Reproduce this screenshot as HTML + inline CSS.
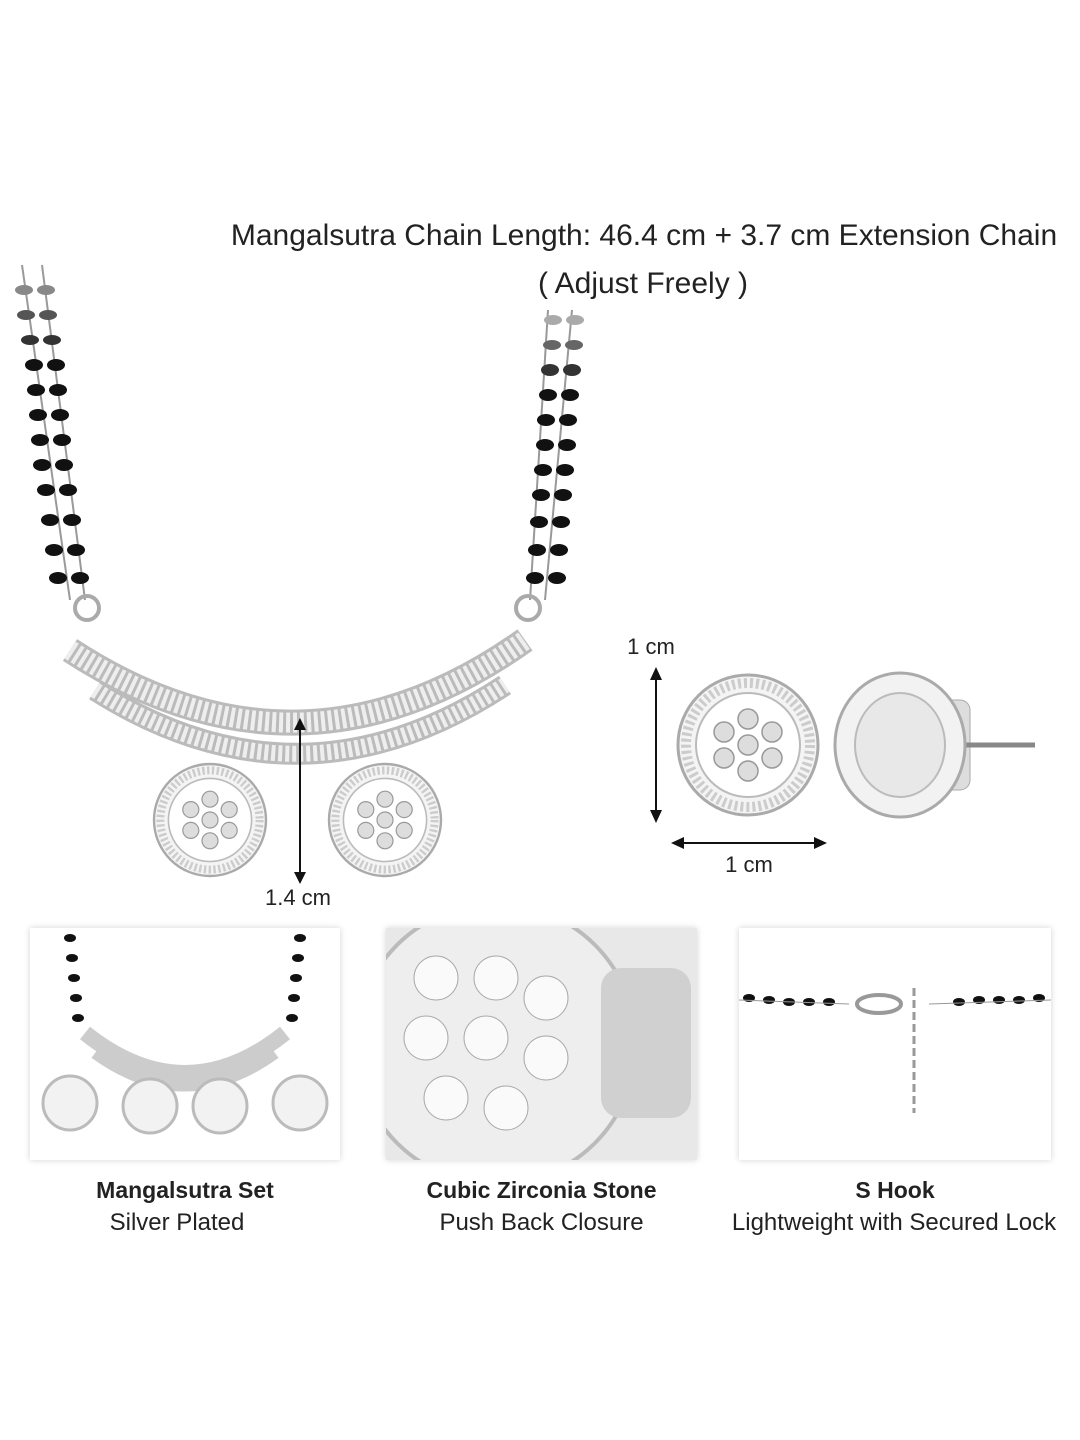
<!DOCTYPE html>
<html><head><meta charset="utf-8"><style>
html,body{margin:0;padding:0;background:#fff;}
body{width:1080px;height:1440px;position:relative;overflow:hidden;font-family:"Liberation Sans","DejaVu Sans",sans-serif;color:#222;}
.t{position:absolute;white-space:nowrap;text-align:center;}
.panel{position:absolute;background:#fff;box-shadow:0 0 6px rgba(0,0,0,0.18);}
</style></head><body>
<div class="t" style="left:180px;width:928px;top:219px;font-size:30px;">Mangalsutra Chain Length: 46.4 cm + 3.7 cm Extension Chain</div>
<div class="t" style="left:443px;width:400px;top:267px;font-size:30px;">( Adjust Freely )</div>

<svg width="1080" height="1440" style="position:absolute;left:0;top:0" xmlns="http://www.w3.org/2000/svg">
<defs>
<g id="flower">
<circle r="70" fill="#f4f4f4" stroke="#aaa" stroke-width="3"/>
<circle r="62" fill="none" stroke="#ccc" stroke-width="10" stroke-dasharray="3 3"/>
<circle r="52" fill="#fff" stroke="#bbb" stroke-width="2"/>
<g fill="#ddd" stroke="#999" stroke-width="1.5">
<circle r="10"/><circle cx="0" cy="-26" r="10"/><circle cx="0" cy="26" r="10"/><circle cx="-24" cy="-13" r="10"/><circle cx="24" cy="-13" r="10"/><circle cx="-24" cy="13" r="10"/><circle cx="24" cy="13" r="10"/></g>
</g>
</defs>
<g>
<line x1="22" y1="265" x2="70" y2="600" stroke="#999" stroke-width="2"/>
<line x1="42" y1="265" x2="85" y2="600" stroke="#999" stroke-width="2"/>
<g fill="#111">
<ellipse cx="24" cy="290" rx="9" ry="5" fill="#888"/><ellipse cx="46" cy="290" rx="9" ry="5" fill="#888"/>
<ellipse cx="26" cy="315" rx="9" ry="5" fill="#555"/><ellipse cx="48" cy="315" rx="9" ry="5" fill="#555"/>
<ellipse cx="30" cy="340" rx="9" ry="5" fill="#333"/><ellipse cx="52" cy="340" rx="9" ry="5" fill="#333"/>
<ellipse cx="34" cy="365" rx="9" ry="6"/><ellipse cx="56" cy="365" rx="9" ry="6"/>
<ellipse cx="36" cy="390" rx="9" ry="6"/><ellipse cx="58" cy="390" rx="9" ry="6"/>
<ellipse cx="38" cy="415" rx="9" ry="6"/><ellipse cx="60" cy="415" rx="9" ry="6"/>
<ellipse cx="40" cy="440" rx="9" ry="6"/><ellipse cx="62" cy="440" rx="9" ry="6"/>
<ellipse cx="42" cy="465" rx="9" ry="6"/><ellipse cx="64" cy="465" rx="9" ry="6"/>
<ellipse cx="46" cy="490" rx="9" ry="6"/><ellipse cx="68" cy="490" rx="9" ry="6"/>
<ellipse cx="50" cy="520" rx="9" ry="6"/><ellipse cx="72" cy="520" rx="9" ry="6"/>
<ellipse cx="54" cy="550" rx="9" ry="6"/><ellipse cx="76" cy="550" rx="9" ry="6"/>
<ellipse cx="58" cy="578" rx="9" ry="6"/><ellipse cx="80" cy="578" rx="9" ry="6"/>
</g></g>
<line x1="548" y1="310" x2="530" y2="600" stroke="#999" stroke-width="2"/>
<line x1="572" y1="310" x2="545" y2="600" stroke="#999" stroke-width="2"/>
<g fill="#111">
<ellipse cx="553" cy="320" rx="9" ry="5" fill="#aaa"/><ellipse cx="575" cy="320" rx="9" ry="5" fill="#aaa"/>
<ellipse cx="552" cy="345" rx="9" ry="5" fill="#666"/><ellipse cx="574" cy="345" rx="9" ry="5" fill="#666"/>
<ellipse cx="550" cy="370" rx="9" ry="6" fill="#333"/><ellipse cx="572" cy="370" rx="9" ry="6" fill="#333"/>
<ellipse cx="548" cy="395" rx="9" ry="6"/><ellipse cx="570" cy="395" rx="9" ry="6"/>
<ellipse cx="546" cy="420" rx="9" ry="6"/><ellipse cx="568" cy="420" rx="9" ry="6"/>
<ellipse cx="545" cy="445" rx="9" ry="6"/><ellipse cx="567" cy="445" rx="9" ry="6"/>
<ellipse cx="543" cy="470" rx="9" ry="6"/><ellipse cx="565" cy="470" rx="9" ry="6"/>
<ellipse cx="541" cy="495" rx="9" ry="6"/><ellipse cx="563" cy="495" rx="9" ry="6"/>
<ellipse cx="539" cy="522" rx="9" ry="6"/><ellipse cx="561" cy="522" rx="9" ry="6"/>
<ellipse cx="537" cy="550" rx="9" ry="6"/><ellipse cx="559" cy="550" rx="9" ry="6"/>
<ellipse cx="535" cy="578" rx="9" ry="6"/><ellipse cx="557" cy="578" rx="9" ry="6"/>
</g>
<circle cx="87" cy="608" r="12" fill="none" stroke="#aaa" stroke-width="4"/>
<circle cx="528" cy="608" r="12" fill="none" stroke="#aaa" stroke-width="4"/>
<path d="M70 650 Q300 800 525 640" fill="none" stroke="#bbb" stroke-width="26"/>
<path d="M70 650 Q300 800 525 640" fill="none" stroke="#eee" stroke-width="20" stroke-dasharray="4 3"/>
<path d="M95 690 Q300 820 505 685" fill="none" stroke="#bbb" stroke-width="22"/>
<path d="M95 690 Q300 820 505 685" fill="none" stroke="#eee" stroke-width="16" stroke-dasharray="4 3"/>
<use href="#flower" transform="translate(210,820) scale(0.8)"/>
<use href="#flower" transform="translate(385,820) scale(0.8)"/>
<line x1="300" y1="722" x2="300" y2="880" stroke="#111" stroke-width="2"/>
<path d="M294 730 L300 718 L306 730 Z M294 872 L300 884 L306 872 Z" fill="#111"/>
<use href="#flower" transform="translate(748,745)"/>
<rect x="910" y="700" width="60" height="90" rx="10" fill="#ddd" stroke="#aaa"/>
<line x1="960" y1="745" x2="1035" y2="745" stroke="#888" stroke-width="5"/>
<ellipse cx="900" cy="745" rx="65" ry="72" fill="#f2f2f2" stroke="#aaa" stroke-width="3"/>
<ellipse cx="900" cy="745" rx="45" ry="52" fill="#e8e8e8" stroke="#bbb" stroke-width="2"/>
<line x1="656" y1="672" x2="656" y2="818" stroke="#111" stroke-width="2"/>
<path d="M650 680 L656 667 L662 680 Z M650 810 L656 823 L662 810 Z" fill="#111"/>
<line x1="676" y1="843" x2="822" y2="843" stroke="#111" stroke-width="2"/>
<path d="M684 837 L671 843 L684 849 Z M814 837 L827 843 L814 849 Z" fill="#111"/>
</svg>
<div class="t" style="left:618px;width:66px;top:634px;font-size:22px;">1 cm</div>
<div class="t" style="left:716px;width:66px;top:852px;font-size:22px;">1 cm</div>
<div class="t" style="left:256px;width:84px;top:885px;font-size:22px;">1.4 cm</div>

<div class="panel" style="left:30px;top:928px;width:310px;height:232px;">
<svg width="310" height="232">
<g fill="#111"><ellipse cx="40" cy="10" rx="6" ry="4"/><ellipse cx="42" cy="30" rx="6" ry="4"/><ellipse cx="44" cy="50" rx="6" ry="4"/><ellipse cx="46" cy="70" rx="6" ry="4"/><ellipse cx="48" cy="90" rx="6" ry="4"/>
<ellipse cx="270" cy="10" rx="6" ry="4"/><ellipse cx="268" cy="30" rx="6" ry="4"/><ellipse cx="266" cy="50" rx="6" ry="4"/><ellipse cx="264" cy="70" rx="6" ry="4"/><ellipse cx="262" cy="90" rx="6" ry="4"/></g>
<path d="M55 105 Q155 185 255 105" fill="none" stroke="#ccc" stroke-width="16"/>
<path d="M65 125 Q155 190 245 125" fill="none" stroke="#ccc" stroke-width="12"/>
<g fill="#f2f2f2" stroke="#bbb" stroke-width="3"><circle cx="40" cy="175" r="27"/><circle cx="120" cy="178" r="27"/><circle cx="190" cy="178" r="27"/><circle cx="270" cy="175" r="27"/></g>
</svg></div>
<div class="panel" style="left:386px;top:928px;width:311px;height:232px;background:#e8e8e8;">
<svg width="311" height="232"><circle cx="110" cy="116" r="140" fill="#eee" stroke="#bbb" stroke-width="4"/>
<rect x="215" y="40" width="90" height="150" rx="20" fill="#d0d0d0"/>
<g fill="#fafafa" stroke="#aaa"><circle cx="50" cy="50" r="22"/><circle cx="110" cy="50" r="22"/><circle cx="160" cy="70" r="22"/><circle cx="40" cy="110" r="22"/><circle cx="100" cy="110" r="22"/><circle cx="160" cy="130" r="22"/><circle cx="60" cy="170" r="22"/><circle cx="120" cy="180" r="22"/></g></svg></div>
<div class="panel" style="left:739px;top:928px;width:312px;height:232px;">
<svg width="312" height="232">
<g fill="#111"><ellipse cx="10" cy="70" rx="6" ry="4"/><ellipse cx="30" cy="72" rx="6" ry="4"/><ellipse cx="50" cy="74" rx="6" ry="4"/><ellipse cx="70" cy="74" rx="6" ry="4"/><ellipse cx="90" cy="74" rx="6" ry="4"/>
<ellipse cx="220" cy="74" rx="6" ry="4"/><ellipse cx="240" cy="72" rx="6" ry="4"/><ellipse cx="260" cy="72" rx="6" ry="4"/><ellipse cx="280" cy="72" rx="6" ry="4"/><ellipse cx="300" cy="70" rx="6" ry="4"/></g>
<line x1="0" y1="72" x2="110" y2="76" stroke="#999"/><line x1="190" y1="76" x2="312" y2="72" stroke="#999"/>
<ellipse cx="140" cy="76" rx="22" ry="9" fill="none" stroke="#999" stroke-width="4"/>
<path d="M175 60 L175 185" stroke="#999" stroke-width="3" stroke-dasharray="8 4"/>
</svg></div>

<div class="t" style="left:30px;width:310px;top:1177px;font-size:23px;font-weight:bold;">Mangalsutra Set</div>
<div class="t" style="left:22px;width:310px;top:1209px;font-size:24px;">Silver Plated</div>
<div class="t" style="left:386px;width:311px;top:1177px;font-size:23px;font-weight:bold;">Cubic Zirconia Stone</div>
<div class="t" style="left:386px;width:311px;top:1209px;font-size:24px;">Push Back Closure</div>
<div class="t" style="left:739px;width:312px;top:1177px;font-size:23px;font-weight:bold;">S Hook</div>
<div class="t" style="left:714px;width:360px;top:1209px;font-size:24px;">Lightweight with Secured Lock</div>
</body></html>
